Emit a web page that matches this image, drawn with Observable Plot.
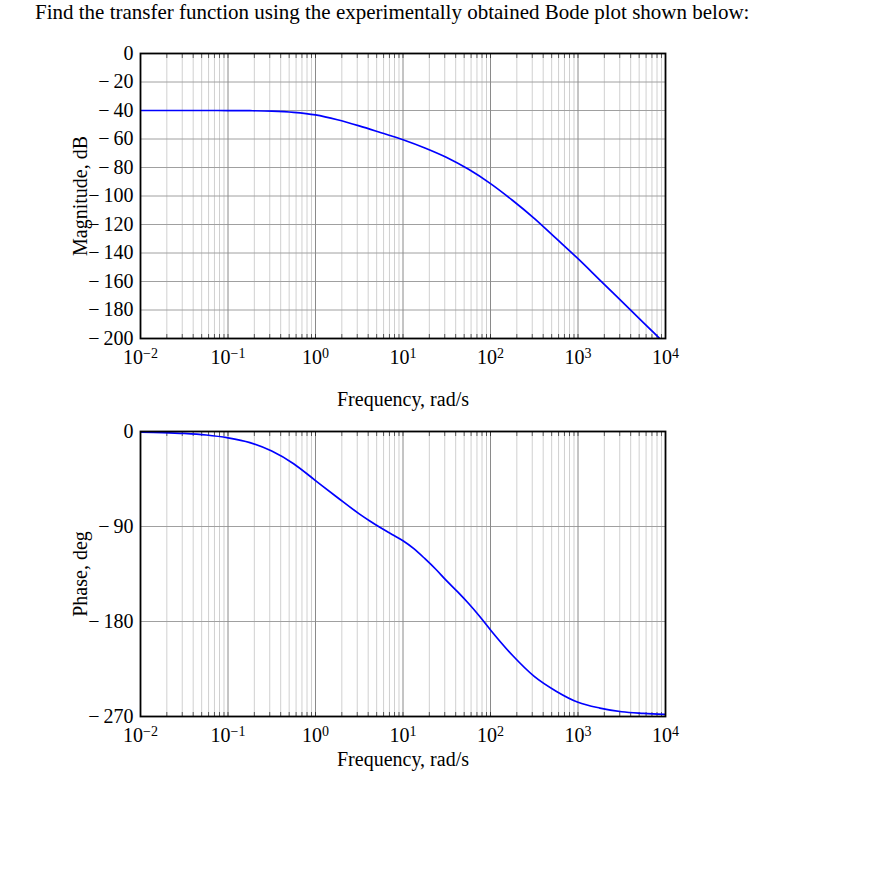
<!DOCTYPE html>
<html><head><meta charset="utf-8">
<script src="https://cdn.jsdelivr.net/npm/d3@7"></script>
<script src="https://cdn.jsdelivr.net/npm/@observablehq/plot@0.6"></script>
<style>
body{margin:0;background:#fff;}
#wrap{position:relative;width:876px;height:890px;font-family:"Liberation Serif",serif;color:#000;}
#title{position:absolute;left:35px;top:2px;font-size:21px;line-height:20px;white-space:nowrap;}
#p1{position:absolute;left:0;top:40px;}
#p2{position:absolute;left:0;top:410px;}
</style></head><body>
<div id="wrap">
<div id="title">Find the transfer function using the experimentally obtained Bode plot shown below:</div>
<div id="p1"></div><div id="p2"></div>
</div>
<script>
// Frequencies (rad/s) at which the magnitude curve was read
const magFreq = [0.01, 0.0178, 0.0316, 0.0562, 0.1, 0.178, 0.316, 0.562, 1, 1.78, 3.16, 5.62, 10, 17.8, 31.6, 56.2, 100, 178, 316, 562, 1000, 1778, 3162, 5623, 10000];
// Magnitude, dB
const magnitudeDb = [-40, -40, -40, -40, -40.05, -40.15, -40.45, -41.3, -43.1, -46.5, -50.8, -55.6, -60.5, -66.3, -73, -81.3, -91.3, -103, -115.7, -129.8, -144, -159, -174, -189, -204];
// Frequencies (rad/s) at which the phase curve was read
const phaseFreq = [0.01, 0.0178, 0.0316, 0.0562, 0.1, 0.178, 0.316, 0.562, 1, 1.78, 3.16, 4.22, 5.62, 7.5, 10, 13.3, 17.8, 23.7, 31.6, 42.2, 56.2, 75, 100, 178, 316, 562, 1000, 1778, 3162, 5623, 10000];
// Phase, deg
const phaseDeg = [-0.6, -1.0, -1.8, -3.3, -6, -10.5, -18.5, -30.5, -46.5, -62.5, -78, -85, -91.5, -97.5, -103.5, -111, -120.5, -130.5, -141.5, -152, -163, -175, -188, -212, -232, -246, -256.5, -262, -265.5, -267, -268];

const decadeTicks = [0.01, 0.1, 1, 10, 100, 1000, 10000];
const decadeExponents = [-2, -1, 0, 1, 2, 3, 4];
const minorMultipliers = [2, 3, 4, 5, 6, 7, 8, 9];
const magTicks = [0, -20, -40, -60, -80, -100, -120, -140, -160, -180, -200];
const phaseTicks = [0, -90, -180, -270];
const xLabel = "Frequency, rad/s";
const magLabel = "Magnitude, dB";
const phaseLabel = "Phase, deg";

const minorTicks = decadeTicks.slice(0, -1).flatMap(d => minorMultipliers.map(m => d * m));
const allLogTicks = [...decadeTicks, ...minorTicks];

function fmtExp(d) {
  const e = decadeExponents[decadeTicks.indexOf(d)];
  return "10^" + (e < 0 ? "\u2212" + Math.abs(e) : String(e));
}
function fmtY(d) { return d === 0 ? "0" : "\u2212\u2009" + Math.abs(d); }

function bode(freqs, values, yTicks, yLabel, o) {
  const data = freqs.map((f, i) => ({f, v: values[i]}));
  const svg = Plot.plot({
    width: 876, height: o.height,
    marginLeft: 140, marginRight: 211, marginTop: o.mt, marginBottom: o.mb,
    style: {fontFamily: "'Liberation Serif', serif", fontSize: "20px", color: "#000", background: "transparent", overflow: "visible"},
    x: {type: "log", domain: [0.01, 10000]},
    y: {domain: [yTicks[yTicks.length - 1], 0]},
    marks: [
      Plot.ruleX(minorTicks, {stroke: "#d0d0d0", strokeWidth: 1}),
      Plot.ruleY(yTicks, {stroke: "#a0a0a0", strokeWidth: 1}),
      Plot.ruleX(decadeTicks, {stroke: "#8a8a8a", strokeWidth: 1}),
      Plot.axisX({anchor: "top", ticks: allLogTicks, tickSize: -4, tickFormat: () => "", label: null, stroke: "#000", strokeOpacity: 0.6}),
      Plot.axisX({anchor: "bottom", ticks: allLogTicks, tickSize: -4, tickFormat: () => "", label: null, stroke: "#000", strokeOpacity: 0.6}),
      Plot.line(data, {x: "f", y: "v", stroke: "#0000ff", strokeWidth: 1.7, curve: "monotone-x", clip: true}),
      Plot.frame({stroke: "#000", strokeWidth: 1.8}),
      Plot.axisX({anchor: "bottom", ticks: decadeTicks, tickSize: 0, tickPadding: 11, tickFormat: fmtExp,
                  label: xLabel, labelAnchor: "center", labelOffset: o.xlo, labelArrow: "none"}),
      Plot.axisY({anchor: "left", ticks: yTicks, tickSize: 0, tickPadding: 7, tickFormat: fmtY,
                  label: yLabel, labelAnchor: "center", labelOffset: 68, labelArrow: "none"})
    ]
  });
  d3.select(svg).selectAll("text").each(function() {
    const m = /^10\^(.+)$/.exec(this.textContent);
    if (!m) return;
    const s = d3.select(this);
    s.selectAll("*").remove();
    s.text(null);
    s.append("tspan").text("10");
    s.append("tspan").attr("dy", "-0.42em").attr("font-size", "14px").text(m[1]);
  });
  return svg;
}

document.getElementById("p1").append(bode(magFreq, magnitudeDb, magTicks, magLabel, {height: 370, mt: 13, mb: 72, xlo: 67}));
document.getElementById("p2").append(bode(phaseFreq, phaseDeg, phaseTicks, phaseLabel, {height: 376, mt: 21, mb: 70, xlo: 49}));
</script>
</body></html>
